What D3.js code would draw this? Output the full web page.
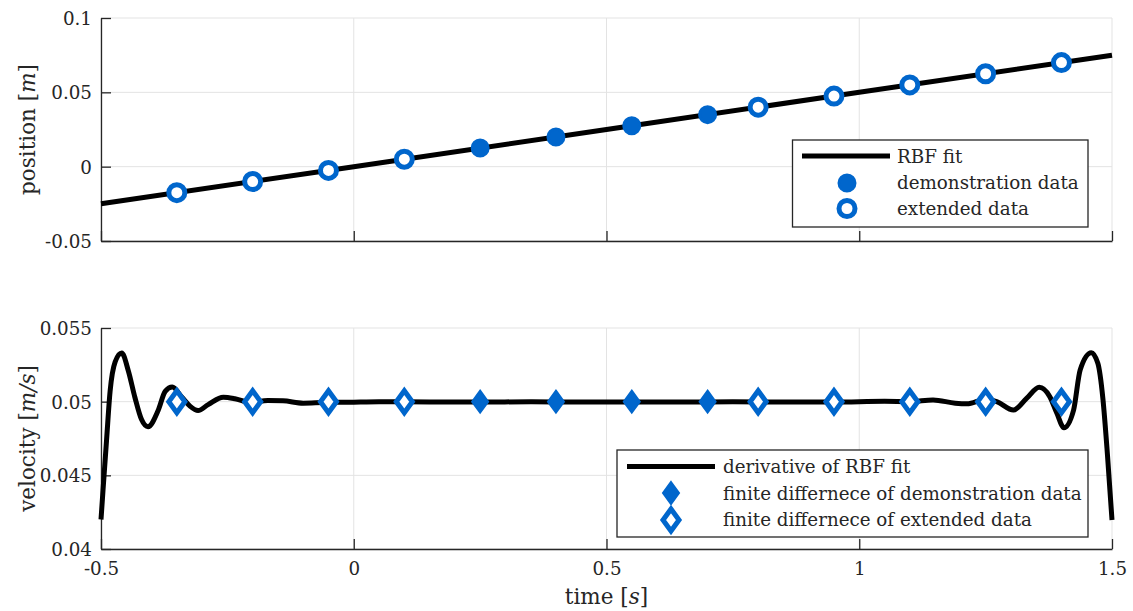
<!DOCTYPE html>
<html>
<head>
<meta charset="utf-8">
<script src="https://cdn.jsdelivr.net/npm/d3@7"></script>
<style>
  html, body { margin: 0; padding: 0; background: #fff; }
  svg { display: block; }
  svg text { font-family: "DejaVu Serif", "Liberation Serif", serif; fill: #262626; }
</style>
</head>
<body>
<script>
// ---- data ----
const xTicks = [-0.5, 0, 0.5, 1, 1.5];
const posTicks = [-0.05, 0, 0.05, 0.1];
const velTicks = [0.04, 0.045, 0.05, 0.055];

// RBF fit of position
const fitT = [-0.5, 0, 0.5, 1, 1.5];
const fitPos = [-0.025, 0, 0.025, 0.05, 0.075];

// demonstration samples
const demoT = [0.25, 0.4, 0.55, 0.7];
const demoPos = [0.0125, 0.02, 0.0275, 0.035];
const demoVel = [0.05, 0.05, 0.05, 0.05];

// extended samples
const extT = [-0.35, -0.2, -0.05, 0.1, 0.8, 0.95, 1.1, 1.25, 1.4];
const extPos = [-0.0175, -0.01, -0.0025, 0.005, 0.04, 0.0475, 0.055, 0.0625, 0.07];
const extVel = [0.05, 0.05, 0.05, 0.05, 0.05, 0.05, 0.05, 0.05, 0.05];

// derivative of the RBF fit
const derivT = [-0.500, -0.496, -0.489, -0.482, -0.472, -0.459, -0.446, -0.433, -0.420, -0.407,
  -0.387, -0.373, -0.359, -0.340, -0.324, -0.308, -0.288, -0.258, -0.235, -0.205,
  -0.170, -0.140, -0.100, -0.060, -0.010, 0.050, 0.150, 0.250, 0.350, 0.450,
  0.550, 0.650, 0.750, 0.850, 0.950, 1.050, 1.100, 1.146, 1.190, 1.213,
  1.250, 1.272, 1.305, 1.331, 1.356, 1.377, 1.391, 1.405, 1.424, 1.437,
  1.459, 1.472, 1.482, 1.491, 1.500];
const derivVel = [0.0420, 0.0440, 0.0474, 0.0507, 0.0527, 0.0533, 0.0521, 0.0503, 0.0488, 0.0483,
  0.0494, 0.0507, 0.0510, 0.0503, 0.0497, 0.0494, 0.0498, 0.0503, 0.0502, 0.04995,
  0.05008, 0.05006, 0.04990, 0.04994, 0.04996, 0.05000, 0.04998, 0.04998, 0.04999, 0.04998,
  0.04998, 0.04998, 0.04999, 0.04998, 0.04997, 0.05002, 0.05000, 0.05012, 0.04990, 0.04986,
  0.05015, 0.05000, 0.04943, 0.05022, 0.05098, 0.05034, 0.04921, 0.04823, 0.04943, 0.05215,
  0.05332, 0.05260, 0.05020, 0.04640, 0.04197];

// ---- layout ----
const W = 1133, H = 611;
const BLUE = "#0066cc";
const AXIS = "#262626";
const GRID = "#e3e3e3";
const FS = 18.3;      // tick labels and legend entries
const FS_LABEL = 21.5; // axis titles
const FONT = "'DejaVu Serif', 'Liberation Serif', serif";

const svg = d3.select("body").append("svg").attr("width", W).attr("height", H);

const x = d3.scaleLinear().domain([-0.5, 1.5]).range([101, 1112]);
const yPos = d3.scaleLinear().domain([-0.05, 0.1]).range([241, 18]);
const yVel = d3.scaleLinear().domain([0.04, 0.055]).range([549, 328]);

function fmt(v) {
  return d3.format("~g")(+v.toFixed(4)).replace("\u2212", "-");
}

function diamondPath(a, b) {
  return `M0,${-b}L${a},0L0,${b}L${-a},0Z`;
}

function panel(y, yTicks, showXLabels) {
  const g = svg.append("g");
  const [x0, x1] = x.range();
  const [yb, yt] = y.range();

  // grid
  g.selectAll(".gx").data(xTicks).join("line")
    .attr("x1", d => x(d)).attr("x2", d => x(d))
    .attr("y1", yb).attr("y2", yt)
    .attr("stroke", GRID).attr("stroke-width", 1);
  g.selectAll(".gy").data(yTicks).join("line")
    .attr("x1", x0).attr("x2", x1)
    .attr("y1", d => y(d)).attr("y2", d => y(d))
    .attr("stroke", GRID).attr("stroke-width", 1);

  // axes (left and bottom, inward ticks)
  const ax = g.append("g").attr("transform", `translate(0,${yb})`)
    .call(d3.axisBottom(x).tickValues(xTicks).tickSizeInner(-10).tickSizeOuter(0)
      .tickFormat(showXLabels ? fmt : () => ""));
  const ay = g.append("g").attr("transform", `translate(${x0},0)`)
    .call(d3.axisLeft(y).tickValues(yTicks).tickSizeInner(-10).tickSizeOuter(0).tickFormat(fmt));
  [ax, ay].forEach(a => {
    a.attr("font-family", FONT);
    a.select(".domain").attr("stroke", AXIS).attr("stroke-width", 1.3);
    a.selectAll(".tick line").attr("stroke", AXIS).attr("stroke-width", 1.3);
    a.selectAll(".tick text").attr("font-size", FS).attr("fill", AXIS);
  });
  ax.selectAll(".tick text").attr("y", 26).attr("dy", 0);
  ay.selectAll(".tick text").attr("x", -9).attr("dy", "0.36em");
  return g;
}

function label(sel, before, ital, after) {
  sel.append("tspan").text(before);
  sel.append("tspan").attr("font-style", "italic").text(ital);
  sel.append("tspan").text(after);
}

// ---------- position panel ----------
const g1 = panel(yPos, posTicks, false);
g1.append("path").datum(fitT.map((t, i) => [t, fitPos[i]]))
  .attr("d", d3.line().x(d => x(d[0])).y(d => yPos(d[1])))
  .attr("fill", "none").attr("stroke", "#000").attr("stroke-width", 5);

g1.selectAll(".demo").data(demoT.map((t, i) => [t, demoPos[i]])).join("circle")
  .attr("cx", d => x(d[0])).attr("cy", d => yPos(d[1])).attr("r", 8)
  .attr("fill", BLUE).attr("stroke", BLUE).attr("stroke-width", 3);
g1.selectAll(".ext").data(extT.map((t, i) => [t, extPos[i]])).join("circle")
  .attr("cx", d => x(d[0])).attr("cy", d => yPos(d[1])).attr("r", 8)
  .attr("fill", "#fff").attr("stroke", BLUE).attr("stroke-width", 5);

svg.append("text")
  .attr("transform", `translate(35,${(yPos.range()[0] + yPos.range()[1]) / 2}) rotate(-90)`)
  .attr("text-anchor", "middle").attr("font-size", FS_LABEL)
  .call(label, "position [", "m", "]");

// legend (position)
const L1 = svg.append("g");
L1.append("rect").attr("x", 792.5).attr("y", 140).attr("width", 295.5).attr("height", 87)
  .attr("fill", "#fff").attr("stroke", AXIS).attr("stroke-width", 1.3);
L1.append("line").attr("x1", 802).attr("x2", 890).attr("y1", 156).attr("y2", 156)
  .attr("stroke", "#000").attr("stroke-width", 5);
L1.append("circle").attr("cx", 847).attr("cy", 183).attr("r", 8)
  .attr("fill", BLUE).attr("stroke", BLUE).attr("stroke-width", 3);
L1.append("circle").attr("cx", 847).attr("cy", 208.5).attr("r", 8)
  .attr("fill", "#fff").attr("stroke", BLUE).attr("stroke-width", 5);
["RBF fit", "demonstration data", "extended data"].forEach((s, i) => {
  L1.append("text").attr("x", 897).attr("y", 156 + i * 26).attr("dy", "0.36em")
    .attr("font-size", FS).text(s);
});

// ---------- velocity panel ----------
const g2 = panel(yVel, velTicks, true);
g2.append("path").datum(derivT.map((t, i) => [t, derivVel[i]]))
  .attr("d", d3.line().curve(d3.curveMonotoneX).x(d => x(d[0])).y(d => yVel(d[1])))
  .attr("fill", "none").attr("stroke", "#000").attr("stroke-width", 5);

g2.selectAll(".demo").data(demoT.map((t, i) => [t, demoVel[i]])).join("path")
  .attr("transform", d => `translate(${x(d[0])},${yVel(d[1])})`)
  .attr("d", diamondPath(8, 11))
  .attr("fill", BLUE).attr("stroke", BLUE).attr("stroke-width", 2);
g2.selectAll(".ext").data(extT.map((t, i) => [t, extVel[i]])).join("path")
  .attr("transform", d => `translate(${x(d[0])},${yVel(d[1])})`)
  .attr("d", diamondPath(8, 11))
  .attr("fill", "#fff").attr("stroke", BLUE).attr("stroke-width", 5);

svg.append("text")
  .attr("transform", `translate(35,${(yVel.range()[0] + yVel.range()[1]) / 2}) rotate(-90)`)
  .attr("text-anchor", "middle").attr("font-size", FS_LABEL)
  .call(label, "velocity [", "m/s", "]");

svg.append("text").attr("x", (x.range()[0] + x.range()[1]) / 2).attr("y", 604)
  .attr("text-anchor", "middle").attr("font-size", FS_LABEL)
  .call(label, "time [", "s", "]");

// legend (velocity)
const L2 = svg.append("g");
L2.append("rect").attr("x", 617).attr("y", 450).attr("width", 471).attr("height", 87)
  .attr("fill", "#fff").attr("stroke", AXIS).attr("stroke-width", 1.3);
L2.append("line").attr("x1", 627).attr("x2", 715).attr("y1", 466.5).attr("y2", 466.5)
  .attr("stroke", "#000").attr("stroke-width", 5);
L2.append("path").attr("transform", "translate(671,493)").attr("d", diamondPath(8, 11))
  .attr("fill", BLUE).attr("stroke", BLUE).attr("stroke-width", 2);
L2.append("path").attr("transform", "translate(671,520)").attr("d", diamondPath(8, 11))
  .attr("fill", "#fff").attr("stroke", BLUE).attr("stroke-width", 5);
["derivative of RBF fit", "finite differnece of demonstration data", "finite differnece of extended data"]
  .forEach((s, i) => {
    L2.append("text").attr("x", 723).attr("y", 466.5 + i * 26.5).attr("dy", "0.36em")
      .attr("font-size", FS).text(s);
  });
</script>
</body>
</html>
